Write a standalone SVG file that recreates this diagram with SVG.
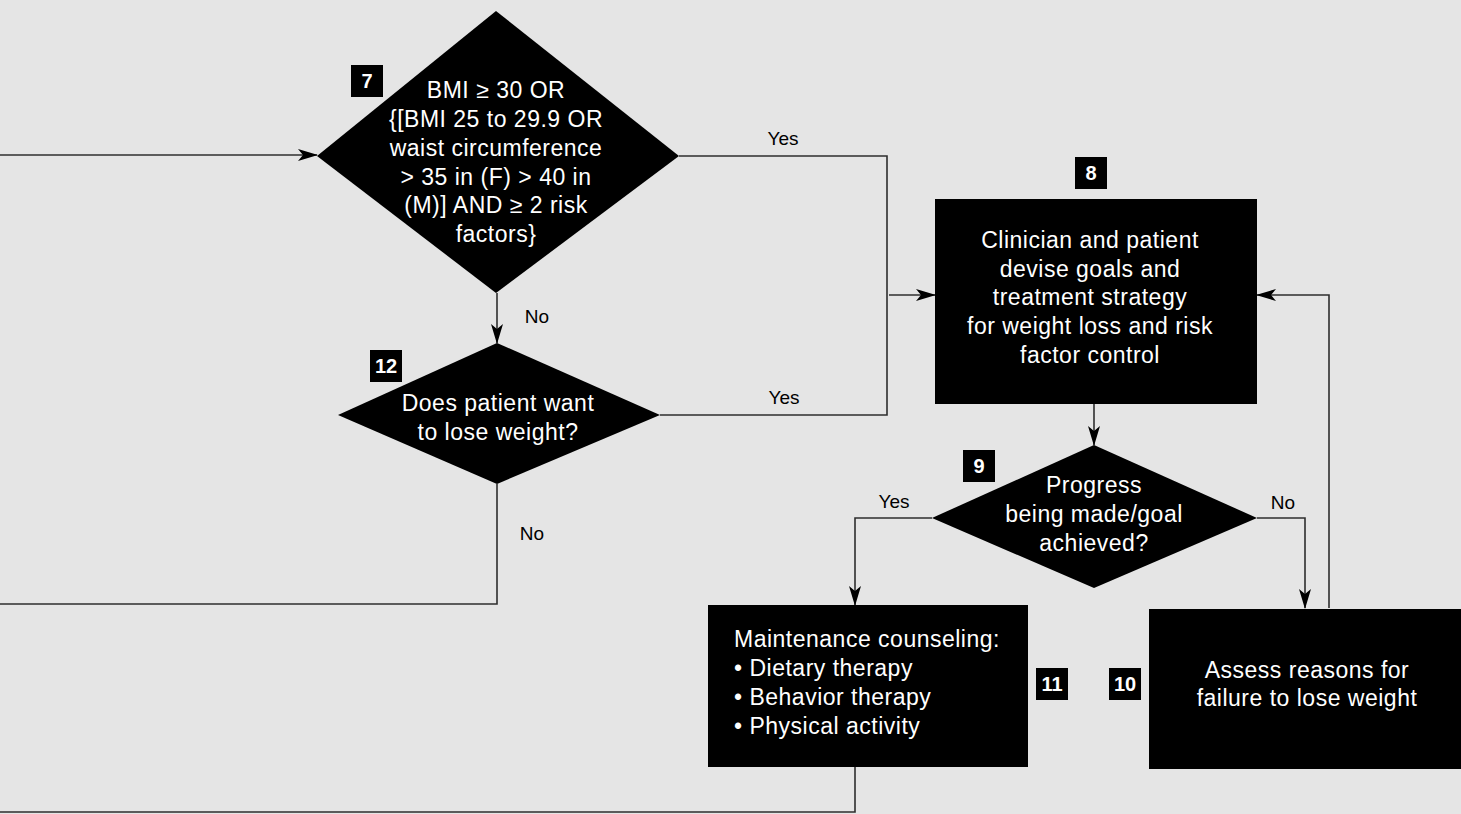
<svg xmlns="http://www.w3.org/2000/svg" width="1461" height="814" viewBox="0 0 1461 814">
<style>
.bg{fill:#e5e5e5}
.shape{fill:#000}
.t{font-family:"Liberation Sans",Arial,Helvetica,sans-serif;font-size:23px;fill:#fff;text-anchor:middle;letter-spacing:0.5px}
.tl{font-family:"Liberation Sans",Arial,Helvetica,sans-serif;font-size:23px;fill:#fff;letter-spacing:0.5px}
.badge{fill:#000}
.bt{font-family:"Liberation Sans",Arial,Helvetica,sans-serif;font-size:20px;font-weight:bold;fill:#fff;text-anchor:middle}
.lbl{font-family:"Liberation Sans",Arial,Helvetica,sans-serif;font-size:19px;fill:#000;text-anchor:middle}
.c{fill:none;stroke:#2e2e2e;stroke-width:1.6}
</style>
<defs>
<marker id="ah" markerUnits="userSpaceOnUse" markerWidth="20" markerHeight="12" refX="19" refY="6" orient="auto">
<path d="M0,0 L20,6 L0,12 L5,6 z" fill="#000"/>
</marker>
</defs>
<rect class="bg" x="0" y="0" width="1461" height="814"/>

<g id="connectors">
<path class="c" d="M0,155 L317,155" marker-end="url(#ah)"/>
<path class="c" d="M679,156 L887,156 L887,415 L660,415"/>
<path class="c" d="M889,295 L935,295" marker-end="url(#ah)"/>
<path class="c" d="M497,293 L497,343" marker-end="url(#ah)"/>
<path class="c" d="M497,484 L497,604 L0,604"/>
<path class="c" d="M1094,404 L1094,445" marker-end="url(#ah)"/>
<path class="c" d="M932,518 L855,518 L855,605" marker-end="url(#ah)"/>
<path class="c" d="M1257,518 L1305,518 L1305,608" marker-end="url(#ah)"/>
<path class="c" d="M1329,608 L1329,295 L1257,295" marker-end="url(#ah)"/>
<path class="c" d="M855,767 L855,812 L0,812"/>
<text class="lbl" x="783" y="145">Yes</text>
<text class="lbl" x="784" y="404">Yes</text>
<text class="lbl" x="537" y="323">No</text>
<text class="lbl" x="532" y="540">No</text>
<text class="lbl" x="894" y="508">Yes</text>
<text class="lbl" x="1283" y="509">No</text>
</g>

<g id="node7">
<polygon class="shape" points="496,11 679,156 496,293 317,156"/>
<rect class="badge" x="351" y="65" width="32" height="32"/>
<text class="bt" x="367" y="88">7</text>
<text class="t" x="496" y="98">BMI ≥ 30 OR</text>
<text class="t" x="496" y="127">{[BMI 25 to 29.9 OR</text>
<text class="t" x="496" y="156">waist circumference</text>
<text class="t" x="496" y="185">&gt; 35 in (F) &gt; 40 in</text>
<text class="t" x="496" y="213">(M)] AND ≥ 2 risk</text>
<text class="t" x="496" y="242">factors}</text>
</g>

<g id="node12">
<polygon class="shape" points="497,343 660,415 497,484 338,415"/>
<rect class="badge" x="370" y="350" width="32" height="32"/>
<text class="bt" x="386" y="373">12</text>
<text class="t" x="498" y="411">Does patient want</text>
<text class="t" x="498" y="440">to lose weight?</text>
</g>

<g id="node8">
<rect class="shape" x="935" y="199" width="322" height="205"/>
<rect class="badge" x="1075" y="157" width="32" height="32"/>
<text class="bt" x="1091" y="180">8</text>
<text class="t" x="1090" y="248">Clinician and patient</text>
<text class="t" x="1090" y="277">devise goals and</text>
<text class="t" x="1090" y="305">treatment strategy</text>
<text class="t" x="1090" y="334">for weight loss and risk</text>
<text class="t" x="1090" y="363">factor control</text>
</g>

<g id="node9">
<polygon class="shape" points="1094,445 1257,518 1094,588 932,518"/>
<rect class="badge" x="963" y="450" width="32" height="32"/>
<text class="bt" x="979" y="473">9</text>
<text class="t" x="1094" y="493">Progress</text>
<text class="t" x="1094" y="522">being made/goal</text>
<text class="t" x="1094" y="551">achieved?</text>
</g>

<g id="node11">
<rect class="shape" x="708" y="605" width="320" height="162"/>
<rect class="badge" x="1036" y="668" width="32" height="32"/>
<text class="bt" x="1052" y="691">11</text>
<text class="tl" x="734" y="647">Maintenance counseling:</text>
<text class="tl" x="734" y="676">• Dietary therapy</text>
<text class="tl" x="734" y="705">• Behavior therapy</text>
<text class="tl" x="734" y="734">• Physical activity</text>
</g>

<g id="node10">
<rect class="shape" x="1149" y="609" width="312" height="160"/>
<rect class="badge" x="1109" y="668" width="32" height="32"/>
<text class="bt" x="1125" y="691">10</text>
<text class="t" x="1307" y="678">Assess reasons for</text>
<text class="t" x="1307" y="706">failure to lose weight</text>
</g>
</svg>
